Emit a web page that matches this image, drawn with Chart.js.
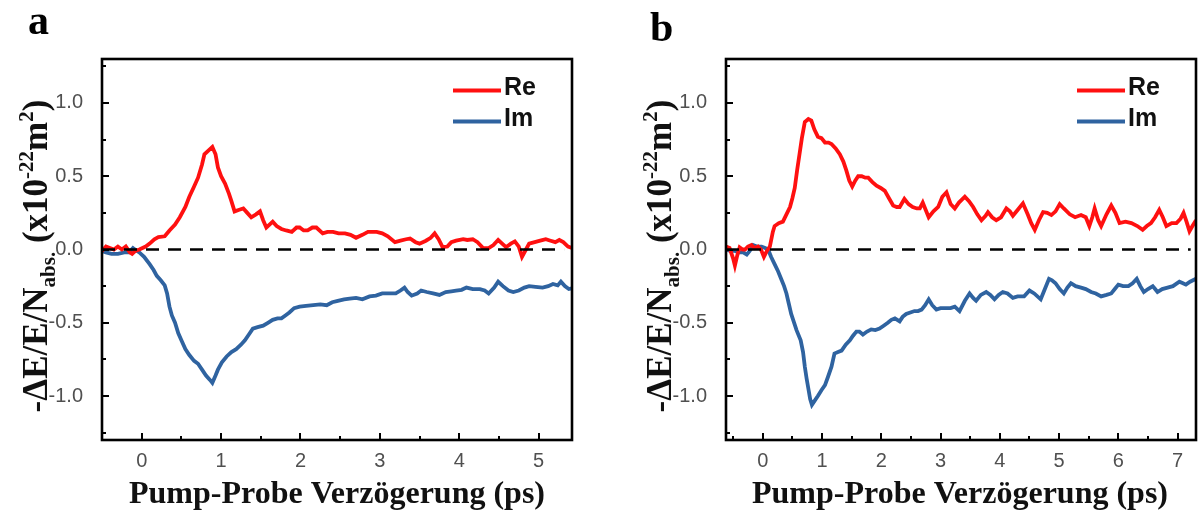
<!DOCTYPE html>
<html>
<head>
<meta charset="utf-8">
<script src="https://cdn.jsdelivr.net/npm/chart.js@4.4.1/dist/chart.umd.min.js"></script>
<style>
  html, body { margin: 0; padding: 0; background: #fff; }
  #wrap { position: relative; width: 1198px; height: 510px; overflow: hidden; background: #fff; }
  .panel { position: absolute; top: 0; width: 599px; height: 510px; }
  #pa { left: 0; }
  #pb { left: 599px; }
</style>
</head>
<body>
<div id="wrap">
  <div class="panel" id="pa"><canvas id="ca" width="599" height="510"></canvas></div>
  <div class="panel" id="pb"><canvas id="cb" width="599" height="510"></canvas></div>
</div>
<script>
// ---- data: pump-probe delay (ps) vs. -dE/E/N_abs (x1e-22 m^2) ----
const seriesNames = ['Re', 'Im'];

const xTicksA = [0, 1, 2, 3, 4, 5];
const xTicksB = [0, 1, 2, 3, 4, 5, 6, 7];
const yTicks = [-1.0, -0.5, 0.0, 0.5, 1.0];

const rangeA = [-0.5, 5.42];
const rangeB = [-0.62, 7.31];
const yRange = [-1.3, 1.3];

const zeroA = [[-0.5, 0], [5.32, 0]];
const zeroB = [[-0.62, 0], [7.22, 0]];

const reA = [
  [-0.50,-0.01],[-0.45,0.02],[-0.40,0.01],[-0.35,0.00],[-0.30,0.02],[-0.25,0.00],[-0.20,0.02],
  [-0.15,-0.02],[-0.12,-0.03],[-0.08,-0.01],[-0.03,0.00],[0.05,0.02],[0.10,0.04],[0.16,0.07],
  [0.21,0.085],[0.29,0.09],[0.35,0.13],[0.42,0.17],[0.48,0.22],[0.55,0.29],[0.60,0.36],
  [0.66,0.43],[0.71,0.49],[0.76,0.58],[0.79,0.65],[0.85,0.68],[0.89,0.70],[0.93,0.65],
  [0.96,0.56],[1.00,0.50],[1.05,0.45],[1.10,0.38],[1.13,0.33],[1.17,0.26],[1.22,0.27],
  [1.28,0.28],[1.33,0.25],[1.38,0.22],[1.44,0.24],[1.49,0.26],[1.53,0.20],[1.57,0.15],
  [1.61,0.17],[1.65,0.19],[1.70,0.16],[1.76,0.14],[1.82,0.13],[1.89,0.12],[1.95,0.15],
  [1.99,0.15],[2.04,0.13],[2.09,0.13],[2.15,0.15],[2.20,0.15],[2.28,0.11],[2.34,0.12],
  [2.41,0.12],[2.48,0.11],[2.56,0.11],[2.63,0.10],[2.70,0.08],[2.78,0.10],[2.85,0.12],
  [2.96,0.12],[3.03,0.11],[3.10,0.09],[3.19,0.05],[3.26,0.06],[3.33,0.07],[3.38,0.075],
  [3.45,0.05],[3.50,0.04],[3.58,0.06],[3.64,0.08],[3.69,0.11],[3.74,0.07],[3.79,0.016],
  [3.85,0.02],[3.90,0.05],[3.96,0.06],[4.05,0.07],[4.10,0.065],[4.17,0.07],[4.23,0.05],
  [4.30,0.01],[4.37,0.01],[4.43,0.03],[4.49,0.065],[4.54,0.04],[4.59,0.016],[4.65,0.04],
  [4.70,0.055],[4.75,0.02],[4.79,-0.05],[4.84,0.00],[4.88,0.04],[4.95,0.05],[5.02,0.06],
  [5.09,0.07],[5.15,0.06],[5.21,0.05],[5.26,0.065],[5.31,0.05],[5.37,0.02],[5.42,0.01]
];

const imA = [
  [-0.50,-0.01],[-0.45,-0.02],[-0.38,-0.03],[-0.30,-0.03],[-0.22,-0.02],[-0.16,-0.02],
  [-0.11,0.01],[-0.06,-0.01],[-0.03,-0.02],[0.03,-0.05],[0.10,-0.10],[0.15,-0.14],
  [0.19,-0.18],[0.24,-0.21],[0.29,-0.245],[0.32,-0.30],[0.35,-0.39],[0.38,-0.45],
  [0.42,-0.50],[0.46,-0.57],[0.50,-0.62],[0.55,-0.68],[0.60,-0.72],[0.66,-0.76],
  [0.71,-0.78],[0.76,-0.82],[0.81,-0.86],[0.86,-0.89],[0.89,-0.91],[0.93,-0.86],
  [0.96,-0.82],[1.01,-0.77],[1.07,-0.73],[1.13,-0.70],[1.19,-0.68],[1.25,-0.65],
  [1.30,-0.62],[1.35,-0.58],[1.40,-0.54],[1.46,-0.53],[1.53,-0.52],[1.59,-0.50],
  [1.65,-0.48],[1.71,-0.47],[1.76,-0.47],[1.81,-0.45],[1.86,-0.43],[1.92,-0.40],
  [1.99,-0.39],[2.07,-0.385],[2.16,-0.38],[2.25,-0.375],[2.33,-0.38],[2.40,-0.36],
  [2.47,-0.35],[2.55,-0.34],[2.62,-0.335],[2.70,-0.33],[2.78,-0.34],[2.87,-0.32],
  [2.95,-0.315],[3.03,-0.30],[3.12,-0.30],[3.20,-0.30],[3.26,-0.28],[3.31,-0.26],
  [3.35,-0.29],[3.40,-0.315],[3.47,-0.30],[3.52,-0.28],[3.59,-0.29],[3.67,-0.30],
  [3.75,-0.31],[3.83,-0.29],[3.90,-0.285],[3.96,-0.28],[4.03,-0.275],[4.09,-0.26],
  [4.17,-0.27],[4.26,-0.27],[4.32,-0.28],[4.37,-0.30],[4.44,-0.26],[4.49,-0.22],
  [4.55,-0.25],[4.62,-0.28],[4.68,-0.29],[4.75,-0.28],[4.82,-0.26],[4.88,-0.25],
  [4.96,-0.255],[5.05,-0.26],[5.12,-0.25],[5.18,-0.235],[5.24,-0.245],[5.28,-0.22],
  [5.33,-0.25],[5.38,-0.27],[5.42,-0.265]
];

const reB = [
  [-0.62,0.02],[-0.56,0.01],[-0.50,-0.06],[-0.47,-0.11],[-0.43,-0.04],[-0.39,0.015],
  [-0.34,0.00],[-0.30,0.00],[-0.25,0.02],[-0.19,0.03],[-0.14,0.01],[-0.08,0.02],
  [-0.03,0.00],[0.02,-0.05],[0.07,-0.01],[0.12,0.02],[0.17,0.12],[0.20,0.16],[0.27,0.18],
  [0.34,0.19],[0.40,0.24],[0.46,0.29],[0.50,0.35],[0.54,0.42],[0.58,0.54],[0.62,0.65],
  [0.66,0.76],[0.71,0.87],[0.77,0.89],[0.82,0.88],[0.87,0.82],[0.93,0.77],[0.99,0.76],
  [1.05,0.73],[1.11,0.73],[1.16,0.72],[1.23,0.69],[1.30,0.65],[1.36,0.60],[1.41,0.54],
  [1.46,0.47],[1.51,0.43],[1.56,0.47],[1.61,0.50],[1.67,0.50],[1.73,0.49],[1.78,0.49],
  [1.85,0.46],[1.92,0.435],[1.99,0.42],[2.06,0.40],[2.13,0.35],[2.20,0.30],[2.26,0.29],
  [2.31,0.29],[2.39,0.345],[2.46,0.31],[2.53,0.29],[2.60,0.28],[2.65,0.28],[2.70,0.32],
  [2.75,0.27],[2.80,0.22],[2.88,0.26],[2.96,0.29],[3.03,0.36],[3.10,0.39],[3.17,0.31],
  [3.24,0.28],[3.31,0.32],[3.41,0.36],[3.48,0.33],[3.55,0.29],[3.62,0.24],[3.69,0.20],
  [3.76,0.23],[3.80,0.255],[3.87,0.22],[3.94,0.20],[4.02,0.22],[4.11,0.28],[4.17,0.26],
  [4.22,0.23],[4.30,0.27],[4.39,0.315],[4.47,0.24],[4.53,0.18],[4.59,0.134],[4.66,0.20],
  [4.73,0.255],[4.80,0.25],[4.87,0.235],[4.94,0.26],[5.01,0.31],[5.08,0.28],[5.18,0.24],
  [5.27,0.22],[5.37,0.235],[5.45,0.22],[5.51,0.16],[5.56,0.22],[5.60,0.28],[5.66,0.20],
  [5.71,0.16],[5.80,0.24],[5.88,0.30],[5.95,0.25],[6.02,0.18],[6.12,0.19],[6.22,0.18],
  [6.32,0.16],[6.41,0.134],[6.48,0.16],[6.55,0.18],[6.62,0.22],[6.69,0.27],[6.75,0.22],
  [6.81,0.16],[6.90,0.18],[6.98,0.18],[7.05,0.21],[7.10,0.25],[7.15,0.19],[7.20,0.125],
  [7.25,0.16],[7.31,0.20]
];

const imB = [
  [-0.62,0.00],[-0.55,-0.01],[-0.47,-0.01],[-0.40,-0.02],[-0.33,-0.02],[-0.27,-0.035],
  [-0.22,-0.01],[-0.16,0.03],[-0.10,0.02],[-0.02,0.02],[0.04,0.01],[0.09,0.00],
  [0.14,-0.05],[0.20,-0.10],[0.26,-0.15],[0.32,-0.21],[0.36,-0.25],[0.40,-0.30],
  [0.44,-0.37],[0.48,-0.44],[0.53,-0.50],[0.57,-0.55],[0.64,-0.62],[0.68,-0.70],
  [0.71,-0.80],[0.74,-0.88],[0.77,-0.95],[0.80,-1.02],[0.83,-1.06],[0.88,-1.03],
  [0.93,-1.00],[0.99,-0.96],[1.05,-0.925],[1.10,-0.87],[1.16,-0.80],[1.21,-0.71],
  [1.27,-0.70],[1.33,-0.69],[1.40,-0.65],[1.47,-0.62],[1.52,-0.59],[1.58,-0.56],
  [1.63,-0.56],[1.69,-0.58],[1.76,-0.56],[1.83,-0.545],[1.90,-0.55],[1.97,-0.54],
  [2.04,-0.52],[2.11,-0.50],[2.17,-0.48],[2.23,-0.47],[2.31,-0.49],[2.36,-0.46],
  [2.42,-0.44],[2.49,-0.43],[2.56,-0.42],[2.62,-0.42],[2.68,-0.41],[2.74,-0.38],
  [2.80,-0.34],[2.86,-0.38],[2.93,-0.41],[3.00,-0.40],[3.10,-0.40],[3.17,-0.40],
  [3.24,-0.39],[3.32,-0.42],[3.41,-0.35],[3.49,-0.30],[3.55,-0.33],[3.60,-0.35],
  [3.68,-0.31],[3.77,-0.29],[3.84,-0.31],[3.91,-0.34],[3.98,-0.31],[4.05,-0.29],
  [4.13,-0.30],[4.22,-0.33],[4.30,-0.32],[4.41,-0.32],[4.50,-0.28],[4.58,-0.30],
  [4.69,-0.34],[4.76,-0.27],[4.83,-0.20],[4.88,-0.21],[4.94,-0.23],[5.01,-0.27],
  [5.08,-0.30],[5.14,-0.26],[5.20,-0.23],[5.28,-0.25],[5.37,-0.26],[5.45,-0.27],
  [5.54,-0.29],[5.62,-0.30],[5.71,-0.32],[5.80,-0.31],[5.88,-0.30],[5.94,-0.27],
  [6.00,-0.24],[6.08,-0.25],[6.17,-0.25],[6.24,-0.23],[6.31,-0.20],[6.37,-0.25],
  [6.43,-0.29],[6.50,-0.27],[6.58,-0.25],[6.62,-0.27],[6.66,-0.29],[6.74,-0.27],
  [6.83,-0.26],[6.92,-0.25],[7.03,-0.22],[7.09,-0.23],[7.14,-0.24],[7.21,-0.22],
  [7.31,-0.20]
];

// ---- styling ----
const SANS = '"Liberation Sans", Arial, Helvetica, sans-serif';
const SERIF = '"Liberation Serif", "Times New Roman", Times, serif';
const RED = '#ff1010';
const BLUE = '#2f63a0';

const toXY = arr => arr.map(p => ({ x: p[0], y: p[1] }));

// frame, inward ticks, axis titles, legend and panel letter
const panelDecor = {
  id: 'panelDecor',
  afterDraw(chart, args, o) {
    const { ctx, chartArea: ca } = chart;
    const xs = chart.scales.x, ys = chart.scales.y;
    ctx.save();

    // inward tick marks (major at labelled values, minor halfway)
    ctx.strokeStyle = '#000';
    ctx.lineWidth = 2;
    ctx.beginPath();
    for (let v = Math.ceil(xs.min / 0.5) * 0.5; v <= xs.max + 1e-9; v += 0.5) {
      const px = Math.round(xs.getPixelForValue(v));
      const len = Math.abs(v - Math.round(v)) < 1e-6 ? 7 : 4;
      ctx.moveTo(px, ca.bottom);
      ctx.lineTo(px, ca.bottom - len);
    }
    for (let v = Math.ceil(ys.min / 0.25) * 0.25; v <= ys.max + 1e-9; v += 0.25) {
      const py = Math.round(ys.getPixelForValue(v));
      const len = Math.abs(v * 2 - Math.round(v * 2)) < 1e-6 ? 7 : 4;
      ctx.moveTo(ca.left, py);
      ctx.lineTo(ca.left + len, py);
    }
    ctx.stroke();

    // frame
    ctx.lineWidth = 2.6;
    ctx.strokeRect(ca.left, ca.top, ca.right - ca.left, ca.bottom - ca.top);

    // legend
    const ds = chart.data.datasets.filter(d => d.inLegend);
    ds.forEach((d, i) => {
      const y = ca.top + 31.5 + i * 31;
      ctx.strokeStyle = d.borderColor;
      ctx.lineWidth = 4;
      ctx.beginPath();
      ctx.moveTo(ca.right - 119, y);
      ctx.lineTo(ca.right - 71, y);
      ctx.stroke();
      ctx.fillStyle = '#111';
      ctx.font = 'bold 25px ' + SANS;
      ctx.textAlign = 'left';
      ctx.textBaseline = 'middle';
      ctx.fillText(d.label, ca.right - 68, y - 2);
    });

    // x axis title
    ctx.fillStyle = '#111';
    ctx.font = 'bold 32px ' + SERIF;
    ctx.textAlign = 'center';
    ctx.textBaseline = 'alphabetic';
    ctx.fillText('Pump-Probe Verz\u00f6gerung (ps)', (ca.left + ca.right) / 2 + o.xTitleShift, 503);

    // y axis title with sub/superscripts, rotated
    const size = 35;
    const parts = [
      ['-\u0394E/E/N', 1, 0],
      ['abs.', 0.6, 0.22],
      [' (x10', 1, 0],
      ['-22', 0.6, -0.4],
      ['m', 1, 0],
      ['2', 0.6, -0.4],
      [')', 1, 0]
    ];
    let total = 0;
    const widths = parts.map(p => {
      ctx.font = 'bold ' + (size * p[1]) + 'px ' + SERIF;
      const w = ctx.measureText(p[0]).width;
      total += w;
      return w;
    });
    ctx.save();
    ctx.translate(ca.left - o.yTitleGap, 256);
    ctx.rotate(-Math.PI / 2);
    ctx.textAlign = 'left';
    let tx = -total / 2;
    parts.forEach((p, i) => {
      ctx.font = 'bold ' + (size * p[1]) + 'px ' + SERIF;
      ctx.fillText(p[0], tx, p[2] * size);
      tx += widths[i];
    });
    ctx.restore();

    // panel letter
    ctx.font = 'bold 42px ' + SERIF;
    ctx.textAlign = 'left';
    ctx.textBaseline = 'alphabetic';
    ctx.fillStyle = '#000';
    ctx.fillText(o.letter, o.letterX, o.letterY);

    ctx.restore();
  }
};

function makeChart(canvasId, re, im, zero, xRange, xTicks, cfg) {
  return new Chart(document.getElementById(canvasId), {
    type: 'line',
    data: {
      datasets: [
        { label: 'zero', data: toXY(zero), borderColor: '#000', borderWidth: 2.6,
          borderDash: [13, 9], pointRadius: 0, inLegend: false },
        { label: seriesNames[0], data: toXY(re), borderColor: RED, borderWidth: 3.8,
          pointRadius: 0, tension: 0, inLegend: true },
        { label: seriesNames[1], data: toXY(im), borderColor: BLUE, borderWidth: 3.8,
          pointRadius: 0, tension: 0, inLegend: true }
      ]
    },
    options: {
      responsive: false,
      animation: false,
      devicePixelRatio: 1,
      layout: { padding: { left: 0, right: cfg.padRight, top: 59, bottom: 0 } },
      plugins: {
        legend: { display: false },
        tooltip: { enabled: false },
        panelDecor: { letter: cfg.letter, letterX: cfg.letterX, letterY: cfg.letterY,
                      xTitleShift: cfg.xTitleShift, yTitleGap: cfg.yTitleGap }
      },
      scales: {
        x: {
          type: 'linear', min: xRange[0], max: xRange[1],
          grid: { display: false }, border: { display: false },
          afterBuildTicks: s => { s.ticks = xTicks.map(v => ({ value: v })); },
          afterFit: s => { s.height = 70; },
          ticks: { color: '#505050', font: { family: SANS, size: 20 }, padding: 1,
                   maxRotation: 0, autoSkip: false, callback: v => String(v) }
        },
        y: {
          type: 'linear', min: yRange[0], max: yRange[1],
          grid: { display: false }, border: { display: false },
          afterBuildTicks: s => { s.ticks = yTicks.map(v => ({ value: v })); },
          afterFit: s => { s.width = cfg.left; },
          ticks: { color: '#505050', font: { family: SANS, size: 20 }, padding: 11,
                   callback: v => Number(v).toFixed(1) }
        }
      }
    },
    plugins: [panelDecor]
  });
}

makeChart('ca', reA, imA, zeroA, rangeA, xTicksA,
  { left: 102, padRight: 27, letter: 'a', letterX: 28, letterY: 34, xTitleShift: 0, yTitleGap: 55 });
makeChart('cb', reB, imB, zeroB, rangeB, xTicksB,
  { left: 127, padRight: 2, letter: 'b', letterX: 51, letterY: 41, xTitleShift: -1, yTitleGap: 55 });
</script>
</body>
</html>
